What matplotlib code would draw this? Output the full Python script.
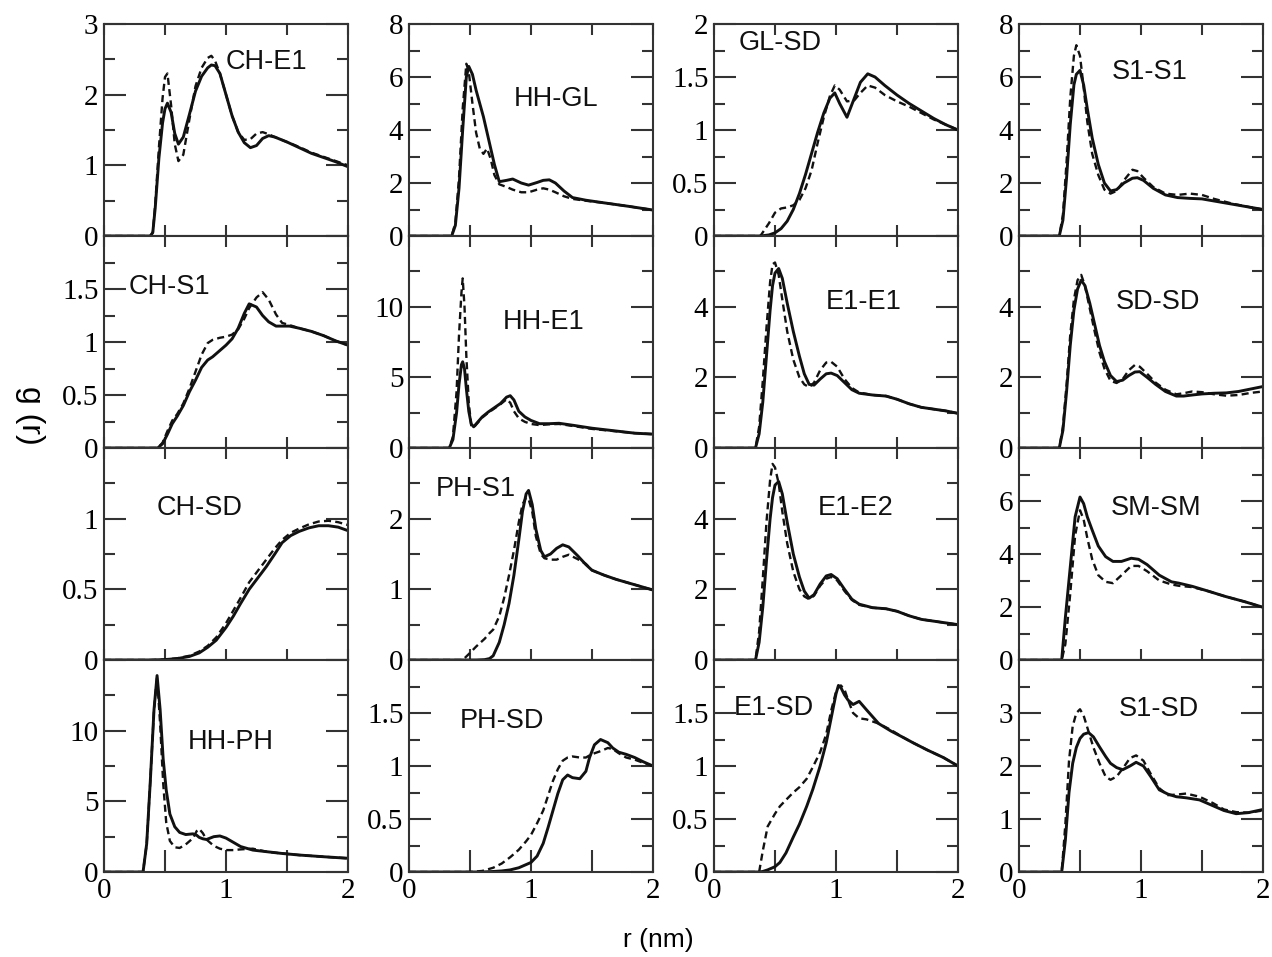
import matplotlib
matplotlib.use("Agg")
import matplotlib.pyplot as plt
from matplotlib.ticker import MultipleLocator, FixedLocator, FixedFormatter

# ---- data: g(r) curves (solid / dashed) ----
ch_e1_r = [0.0, 0.38, 0.40, 0.42, 0.45, 0.48, 0.50, 0.52, 0.55, 0.58, 0.61, 0.65, 0.70, 0.75, 0.80, 0.85, 0.88,
           0.91, 0.95, 1.00, 1.05, 1.10, 1.15, 1.20, 1.25, 1.30, 1.35, 1.40, 1.50, 1.60, 1.70, 1.80, 1.90, 2.00]
ch_e1_solid = [0, 0, 0.05, 0.40, 1.10, 1.60, 1.80, 1.88, 1.75, 1.45, 1.30, 1.40, 1.72, 2.05, 2.26, 2.38, 2.42,
               2.41, 2.30, 2.00, 1.70, 1.47, 1.32, 1.25, 1.28, 1.38, 1.42, 1.40, 1.33, 1.25, 1.17, 1.11, 1.05, 0.98]
ch_e1_dash = [0, 0, 0.05, 0.45, 1.25, 1.95, 2.25, 2.30, 1.85, 1.30, 1.06, 1.15, 1.65, 2.12, 2.38, 2.52, 2.55,
              2.48, 2.30, 2.00, 1.70, 1.47, 1.36, 1.37, 1.45, 1.47, 1.44, 1.40, 1.33, 1.26, 1.18, 1.12, 1.06, 1.00]

hh_gl_r = [0, 0.35, 0.38, 0.41, 0.44, 0.47, 0.49, 0.52, 0.55, 0.58, 0.61, 0.64, 0.67, 0.70, 0.74, 0.80, 0.85,
           0.92, 0.98, 1.05, 1.10, 1.15, 1.20, 1.27, 1.34, 1.45, 1.60, 1.80, 2.00]
hh_gl_solid = [0, 0, 0.4, 1.8, 4.0, 6.0, 6.4, 6.1, 5.5, 5.0, 4.5, 3.9, 3.3, 2.7, 2.05, 2.1, 2.15,
               2.0, 1.92, 2.02, 2.1, 2.12, 2.0, 1.7, 1.45, 1.35, 1.25, 1.12, 0.98]
hh_gl_dash = [0, 0, 0.5, 2.2, 4.8, 6.5, 6.2, 5.0, 3.9, 3.3, 3.1, 3.3, 2.9, 2.3, 1.95, 1.85, 1.75,
              1.65, 1.65, 1.75, 1.8, 1.75, 1.65, 1.5, 1.4, 1.33, 1.25, 1.12, 0.98]

gl_sd_r = [0, 0.38, 0.45, 0.50, 0.55, 0.60, 0.65, 0.70, 0.75, 0.80, 0.85, 0.90, 0.95, 0.99, 1.03, 1.09, 1.15,
           1.20, 1.26, 1.32, 1.40, 1.50, 1.60, 1.70, 1.80, 1.90, 2.00]
gl_sd_solid = [0, 0, 0.01, 0.03, 0.07, 0.14, 0.25, 0.40, 0.58, 0.78, 0.98, 1.16, 1.30, 1.35, 1.25, 1.12, 1.30,
               1.45, 1.53, 1.50, 1.42, 1.33, 1.25, 1.18, 1.11, 1.05, 1.0]
gl_sd_dash = [0, 0, 0.12, 0.22, 0.26, 0.27, 0.29, 0.34, 0.45, 0.62, 0.88, 1.12, 1.32, 1.42, 1.38, 1.27, 1.28,
              1.35, 1.42, 1.40, 1.33, 1.27, 1.22, 1.16, 1.10, 1.05, 1.0]

s1_s1_r = [0, 0.33, 0.36, 0.39, 0.42, 0.45, 0.47, 0.50, 0.53, 0.56, 0.60, 0.65, 0.70, 0.75, 0.80, 0.86, 0.93,
           0.97, 1.02, 1.10, 1.20, 1.30, 1.40, 1.50, 1.60, 1.75, 1.90, 2.00]
s1_s1_solid = [0, 0, 0.6, 2.2, 4.2, 5.7, 6.1, 6.25, 5.7, 4.8, 3.7, 2.7, 2.0, 1.7, 1.75, 2.0, 2.18,
               2.2, 2.1, 1.8, 1.55, 1.45, 1.42, 1.4, 1.32, 1.2, 1.08, 1.0]
s1_s1_dash = [0, 0, 0.8, 2.8, 5.2, 6.8, 7.2, 6.8, 5.6, 4.3, 3.1, 2.3, 1.75, 1.6, 1.7, 2.1, 2.5,
              2.45, 2.2, 1.85, 1.6, 1.55, 1.6, 1.55, 1.4, 1.22, 1.08, 1.0]

ch_s1_r = [0, 0.44, 0.48, 0.52, 0.56, 0.60, 0.65, 0.70, 0.75, 0.80, 0.85, 0.89, 0.95, 1.00, 1.05, 1.10, 1.15,
           1.19, 1.25, 1.30, 1.35, 1.41, 1.46, 1.52, 1.60, 1.70, 1.80, 1.90, 2.00]
ch_s1_solid = [0, 0, 0.04, 0.13, 0.23, 0.30, 0.40, 0.53, 0.64, 0.76, 0.83, 0.86, 0.92, 0.97, 1.03, 1.13, 1.27,
               1.36, 1.33, 1.25, 1.19, 1.15, 1.15, 1.15, 1.13, 1.10, 1.06, 1.01, 0.97]
ch_s1_dash = [0, 0, 0.05, 0.16, 0.26, 0.32, 0.42, 0.56, 0.72, 0.88, 0.99, 1.02, 1.04, 1.05, 1.07, 1.12, 1.22,
              1.32, 1.42, 1.47, 1.40, 1.26, 1.18, 1.16, 1.13, 1.10, 1.06, 1.01, 0.97]

hh_e1_r = [0, 0.33, 0.36, 0.39, 0.41, 0.43, 0.44, 0.455, 0.47, 0.49, 0.51, 0.53, 0.56, 0.60, 0.65, 0.70, 0.75,
           0.80, 0.83, 0.86, 0.90, 0.95, 1.00, 1.07, 1.15, 1.23, 1.35, 1.50, 1.70, 1.85, 2.00]
hh_e1_solid = [0, 0, 0.6, 2.5, 4.5, 5.9, 6.1, 5.6, 4.2, 2.6, 1.7, 1.5, 1.8, 2.2, 2.55, 2.85, 3.15,
               3.6, 3.7, 3.4, 2.6, 2.2, 1.95, 1.72, 1.72, 1.75, 1.6, 1.4, 1.2, 1.05, 0.98]
hh_e1_dash = [0, 0, 0.8, 4.0, 8.0, 11.0, 12.0, 10.0, 6.5, 3.2, 1.6, 1.45, 1.75, 2.15, 2.5, 2.8, 3.1,
              3.45, 3.2, 2.6, 2.1, 1.85, 1.7, 1.62, 1.68, 1.7, 1.55, 1.35, 1.18, 1.05, 0.98]

e1_e1_r = [0, 0.34, 0.37, 0.40, 0.43, 0.46, 0.48, 0.50, 0.53, 0.56, 0.60, 0.65, 0.70, 0.74, 0.78, 0.82, 0.87,
           0.92, 0.96, 1.01, 1.07, 1.13, 1.19, 1.30, 1.41, 1.50, 1.60, 1.70, 1.80, 1.90, 2.00]
e1_e1_solid = [0, 0, 0.4, 1.3, 2.6, 3.9, 4.6, 4.95, 5.08, 4.8, 4.1, 3.3, 2.6, 2.1, 1.8, 1.78, 1.95,
               2.1, 2.12, 2.05, 1.85, 1.65, 1.55, 1.5, 1.47, 1.38, 1.25, 1.15, 1.1, 1.05, 0.98]
e1_e1_dash = [0, 0, 0.6, 1.9, 3.4, 4.7, 5.2, 5.25, 4.9, 4.2, 3.3, 2.5, 2.0, 1.8, 1.72, 1.85, 2.2,
              2.42, 2.44, 2.3, 1.95, 1.7, 1.57, 1.5, 1.47, 1.38, 1.25, 1.15, 1.1, 1.05, 0.98]

sd_sd_r = [0, 0.33, 0.36, 0.39, 0.42, 0.45, 0.48, 0.51, 0.54, 0.58, 0.62, 0.66, 0.70, 0.75, 0.80, 0.85, 0.90,
           0.95, 0.99, 1.05, 1.12, 1.20, 1.29, 1.35, 1.42, 1.50, 1.60, 1.70, 1.80, 1.90, 2.00]
sd_sd_solid = [0, 0, 0.5, 1.6, 2.9, 3.9, 4.5, 4.75, 4.6, 4.1, 3.5, 2.9, 2.45, 2.05, 1.88, 1.92, 2.05,
               2.15, 2.16, 2.0, 1.8, 1.6, 1.47, 1.47, 1.5, 1.53, 1.55, 1.56, 1.6, 1.67, 1.74]
sd_sd_dash = [0, 0, 0.6, 1.8, 3.2, 4.2, 4.75, 4.9, 4.6, 3.95, 3.3, 2.7, 2.25, 1.9, 1.84, 1.95, 2.2,
              2.35, 2.3, 2.1, 1.85, 1.65, 1.52, 1.55, 1.6, 1.58, 1.52, 1.48, 1.5, 1.56, 1.6]

ch_sd_r = [0, 0.38, 0.50, 0.60, 0.70, 0.78, 0.85, 0.92, 1.00, 1.06, 1.12, 1.19, 1.26, 1.33, 1.40, 1.46, 1.53,
           1.60, 1.68, 1.76, 1.84, 1.92, 2.00]
ch_sd_solid = [0, 0, 0.003, 0.01, 0.025, 0.05, 0.09, 0.14, 0.23, 0.31, 0.40, 0.50, 0.58, 0.66, 0.75, 0.83, 0.88,
               0.91, 0.935, 0.95, 0.95, 0.94, 0.915]
ch_sd_dash = [0, 0, 0.003, 0.012, 0.03, 0.06, 0.10, 0.16, 0.26, 0.35, 0.44, 0.55, 0.63, 0.71, 0.79, 0.85, 0.90,
              0.93, 0.96, 0.98, 0.985, 0.975, 0.955]

ph_s1_r = [0, 0.44, 0.50, 0.55, 0.62, 0.66, 0.69, 0.74, 0.78, 0.82, 0.86, 0.90, 0.93, 0.96, 0.98, 1.01, 1.04,
           1.08, 1.11, 1.16, 1.21, 1.26, 1.31, 1.38, 1.45, 1.50, 1.60, 1.70, 1.80, 1.90, 2.00]
ph_s1_solid = [0, 0, 0, 0, 0.005, 0.02, 0.06, 0.25, 0.5, 0.8, 1.2, 1.7, 2.1, 2.35, 2.40, 2.2, 1.85,
               1.55, 1.46, 1.5, 1.58, 1.63, 1.6, 1.48, 1.35, 1.27, 1.2, 1.14, 1.09, 1.04, 0.99]
ph_s1_dash = [0, 0, 0.1, 0.19, 0.3, 0.38, 0.43, 0.62, 0.88, 1.2, 1.55, 1.95, 2.2, 2.3, 2.28, 2.1, 1.75,
              1.5, 1.44, 1.42, 1.42, 1.46, 1.49, 1.43, 1.36, 1.27, 1.2, 1.14, 1.09, 1.04, 0.99]

e1_e2_r = [0, 0.34, 0.37, 0.40, 0.43, 0.46, 0.48, 0.50, 0.53, 0.56, 0.60, 0.65, 0.70, 0.74, 0.78, 0.82, 0.87,
           0.92, 0.96, 1.01, 1.07, 1.13, 1.19, 1.30, 1.41, 1.50, 1.60, 1.70, 1.80, 1.90, 2.00]
e1_e2_solid = [0, 0, 0.5, 1.5, 2.8, 4.0, 4.6, 4.95, 5.05, 4.7, 3.9, 3.0, 2.35, 1.95, 1.75, 1.85, 2.15,
               2.38, 2.42, 2.3, 2.0, 1.72, 1.58, 1.48, 1.45, 1.38, 1.25, 1.15, 1.1, 1.05, 1.0]
e1_e2_dash = [0, 0, 0.8, 2.3, 3.9, 5.1, 5.55, 5.45, 5.0, 4.2, 3.3, 2.5, 2.0, 1.8, 1.72, 1.82, 2.1,
              2.3, 2.35, 2.25, 1.95, 1.7, 1.56, 1.48, 1.45, 1.38, 1.25, 1.15, 1.1, 1.05, 1.0]

sm_sm_r = [0, 0.35, 0.38, 0.42, 0.46, 0.50, 0.53, 0.56, 0.60, 0.65, 0.71, 0.77, 0.84, 0.92, 0.98, 1.05, 1.15,
           1.25, 1.31, 1.42, 1.55, 1.69, 1.85, 2.00]
sm_sm_solid = [0, 0, 1.6, 3.5, 5.4, 6.15, 5.9, 5.4, 4.9, 4.3, 3.9, 3.72, 3.72, 3.84, 3.8, 3.6, 3.2,
               2.95, 2.9, 2.78, 2.6, 2.4, 2.2, 1.99]
sm_sm_dash = [0, 0, 0.6, 2.5, 4.7, 5.65, 5.3, 4.6, 3.8, 3.2, 2.95, 2.9, 3.2, 3.55, 3.55, 3.35, 3.0,
              2.85, 2.8, 2.75, 2.6, 2.4, 2.2, 1.99]

hh_ph_r = [0, 0.32, 0.35, 0.38, 0.41, 0.435, 0.46, 0.485, 0.51, 0.54, 0.58, 0.62, 0.67, 0.73, 0.76, 0.78, 0.81,
           0.84, 0.90, 0.95, 1.00, 1.06, 1.12, 1.22, 1.33, 1.45, 1.60, 1.80, 2.00]
hh_ph_solid = [0, 0, 2.0, 6.5, 11.5, 13.9, 11.5, 8.0, 5.8, 4.1, 3.2, 2.8, 2.65, 2.7, 2.6, 2.45, 2.35,
               2.3, 2.5, 2.55, 2.4, 2.1, 1.8, 1.55, 1.44, 1.32, 1.2, 1.08, 0.97]
hh_ph_dash = [0, 0, 2.0, 6.5, 11.5, 13.8, 10.5, 6.3, 3.5, 2.2, 1.75, 1.7, 1.95, 2.4, 2.9, 3.05, 2.75,
              2.3, 1.85, 1.65, 1.55, 1.55, 1.6, 1.65, 1.44, 1.32, 1.2, 1.08, 0.97]

ph_sd_r = [0, 0.50, 0.60, 0.69, 0.76, 0.83, 0.90, 0.96, 1.00, 1.05, 1.10, 1.14, 1.18, 1.22, 1.26, 1.30, 1.34,
           1.40, 1.45, 1.48, 1.52, 1.57, 1.63, 1.67, 1.72, 1.78, 1.85, 1.92, 2.00]
ph_sd_solid = [0, 0, 0, 0.005, 0.01, 0.02, 0.04, 0.07, 0.09, 0.15, 0.27, 0.42, 0.58, 0.74, 0.87, 0.915, 0.89,
               0.88, 0.95, 1.08, 1.2, 1.25, 1.22, 1.17, 1.13, 1.11, 1.08, 1.04, 1.0]
ph_sd_dash = [0, 0, 0.01, 0.04, 0.08, 0.14, 0.21, 0.29, 0.35, 0.46, 0.58, 0.72, 0.86, 0.97, 1.05, 1.08, 1.09,
              1.08, 1.08, 1.1, 1.12, 1.14, 1.17, 1.16, 1.12, 1.08, 1.06, 1.03, 1.0]

e1_sd_r = [0, 0.37, 0.40, 0.44, 0.50, 0.54, 0.59, 0.65, 0.70, 0.76, 0.81, 0.87, 0.92, 0.96, 1.00, 1.02, 1.04,
           1.07, 1.10, 1.14, 1.19, 1.25, 1.35, 1.45, 1.55, 1.63, 1.75, 1.88, 2.00]
e1_sd_solid = [0, 0, 0.005, 0.02, 0.05, 0.09, 0.18, 0.33, 0.45, 0.62, 0.78, 1.0, 1.22, 1.45, 1.68, 1.76, 1.74,
               1.67, 1.62, 1.58, 1.61, 1.53, 1.4, 1.33, 1.27, 1.22, 1.15, 1.08, 1.0]
e1_sd_dash = [0, 0, 0.2, 0.43, 0.55, 0.62, 0.68, 0.75, 0.8, 0.88, 0.99, 1.13, 1.3, 1.52, 1.7, 1.74, 1.76,
              1.72, 1.62, 1.5, 1.45, 1.44, 1.4, 1.34, 1.27, 1.22, 1.15, 1.08, 1.0]

s1_sd_r = [0, 0.35, 0.38, 0.41, 0.44, 0.47, 0.50, 0.53, 0.57, 0.61, 0.66, 0.71, 0.75, 0.80, 0.85, 0.91, 0.96,
           1.02, 1.08, 1.15, 1.22, 1.29, 1.37, 1.48, 1.59, 1.68, 1.78, 1.88, 2.00]
s1_sd_solid = [0, 0, 0.6, 1.5, 2.05, 2.35, 2.52, 2.6, 2.63, 2.55, 2.36, 2.18, 2.05, 1.97, 1.93, 2.0, 2.07,
               2.0, 1.8, 1.55, 1.47, 1.42, 1.4, 1.36, 1.25, 1.16, 1.1, 1.12, 1.18]
s1_sd_dash = [0, 0, 0.9, 2.1, 2.75, 3.0, 3.07, 2.95, 2.65, 2.35, 2.05, 1.8, 1.74, 1.8, 1.95, 2.15, 2.2,
              2.1, 1.85, 1.58, 1.45, 1.46, 1.48, 1.42, 1.3, 1.18, 1.13, 1.12, 1.16]

# panel name, data, (ymax, major step, minor step), label position (axes fraction)
panels = [
    ("CH-E1", ch_e1_r, ch_e1_solid, ch_e1_dash, (3, 1, 0.5), (0.50, 0.82)),
    ("HH-GL", hh_gl_r, hh_gl_solid, hh_gl_dash, (8, 2, 1), (0.43, 0.645)),
    ("GL-SD", gl_sd_r, gl_sd_solid, gl_sd_dash, (2, 0.5, 0.25), (0.10, 0.91)),
    ("S1-S1", s1_s1_r, s1_s1_solid, s1_s1_dash, (8, 2, 1), (0.38, 0.775)),
    ("CH-S1", ch_s1_r, ch_s1_solid, ch_s1_dash, (2, 0.5, 0.25), (0.10, 0.76)),
    ("HH-E1", hh_e1_r, hh_e1_solid, hh_e1_dash, (15, 5, 2.5), (0.385, 0.595)),
    ("E1-E1", e1_e1_r, e1_e1_solid, e1_e1_dash, (6, 2, 1), (0.46, 0.69)),
    ("SD-SD", sd_sd_r, sd_sd_solid, sd_sd_dash, (6, 2, 1), (0.395, 0.69)),
    ("CH-SD", ch_sd_r, ch_sd_solid, ch_sd_dash, (1.5, 0.5, 0.25), (0.215, 0.715)),
    ("PH-S1", ph_s1_r, ph_s1_solid, ph_s1_dash, (3, 1, 0.5), (0.11, 0.805)),
    ("E1-E2", e1_e2_r, e1_e2_solid, e1_e2_dash, (6, 2, 1), (0.425, 0.715)),
    ("SM-SM", sm_sm_r, sm_sm_solid, sm_sm_dash, (8, 2, 1), (0.375, 0.715)),
    ("HH-PH", hh_ph_r, hh_ph_solid, hh_ph_dash, (15, 5, 2.5), (0.345, 0.615)),
    ("PH-SD", ph_sd_r, ph_sd_solid, ph_sd_dash, (2, 0.5, 0.25), (0.21, 0.71)),
    ("E1-SD", e1_sd_r, e1_sd_solid, e1_sd_dash, (2, 0.5, 0.25), (0.08, 0.772)),
    ("S1-SD", s1_sd_r, s1_sd_solid, s1_sd_dash, (4, 1, 0.5), (0.41, 0.767)),
]

W, H = 1272, 957
col_left = [104, 409, 714, 1019]
row_top = [24, 236, 448, 660]
pw, ph = 244, 212

serif = "Liberation Serif"
sans = "Liberation Sans"
ink = "#111111"

fig = plt.figure(figsize=(W / 100, H / 100), dpi=100)

for i, (name, r, solid, dash, (ymax, major, minor), (tx, ty)) in enumerate(panels):
    row, col = divmod(i, 4)
    ax = fig.add_axes([col_left[col] / W, 1 - (row_top[row] + ph) / H, pw / W, ph / H])
    ax.plot(r, solid, color=ink, lw=2.1, solid_joinstyle="round")
    ax.plot(r, dash, color=ink, lw=1.7, linestyle=(0, (3, 1.8)))
    ax.set_xlim(0, 2)
    ax.set_ylim(0, ymax)

    for s in ax.spines.values():
        s.set_linewidth(1.5)
        s.set_color("#333333")

    # y ticks
    yt = [k * major for k in range(int(round(ymax / major)) + 1)]
    ylabels = ["%g" % v for v in yt]
    if row > 0:
        ylabels[-1] = ""
    ax.yaxis.set_major_locator(FixedLocator(yt))
    ax.yaxis.set_major_formatter(FixedFormatter(ylabels))
    ax.yaxis.set_minor_locator(MultipleLocator(minor))
    ax.tick_params(axis="y", which="major", direction="in", length=16, width=1.5, color="#333333",
                   left=True, right=True, labelsize=21, pad=4)
    ax.tick_params(axis="y", which="minor", direction="in", length=8, width=1.5, color="#333333",
                   left=True, right=True)

    # x ticks
    ax.set_xticks([0, 0.5, 1, 1.5, 2])
    if row == 3:
        ax.set_xticklabels(["0", "", "1", "", "2"])
        ax.tick_params(axis="x", direction="in", length=16, width=1.5, color="#333333", top=False,
                       labelsize=21, pad=4)
    else:
        ax.set_xticklabels([])
        ax.tick_params(axis="x", direction="in", length=8, width=1.5, color="#333333", top=True)

    for lab in ax.get_xticklabels() + ax.get_yticklabels():
        lab.set_fontfamily(serif)

    ax.text(tx, ty, name, transform=ax.transAxes, ha="left", va="center",
            fontsize=19.5, family=sans, color=ink)

fig.text(658 / W, 1 - 940 / H, "r (nm)", ha="center", va="center", fontsize=19, family=sans)
fig.text(30 / W, 1 - 415 / H, "g (r)", ha="center", va="center", rotation=270,
         fontsize=23, family=sans)

fig.savefig("out.png", dpi=100)
